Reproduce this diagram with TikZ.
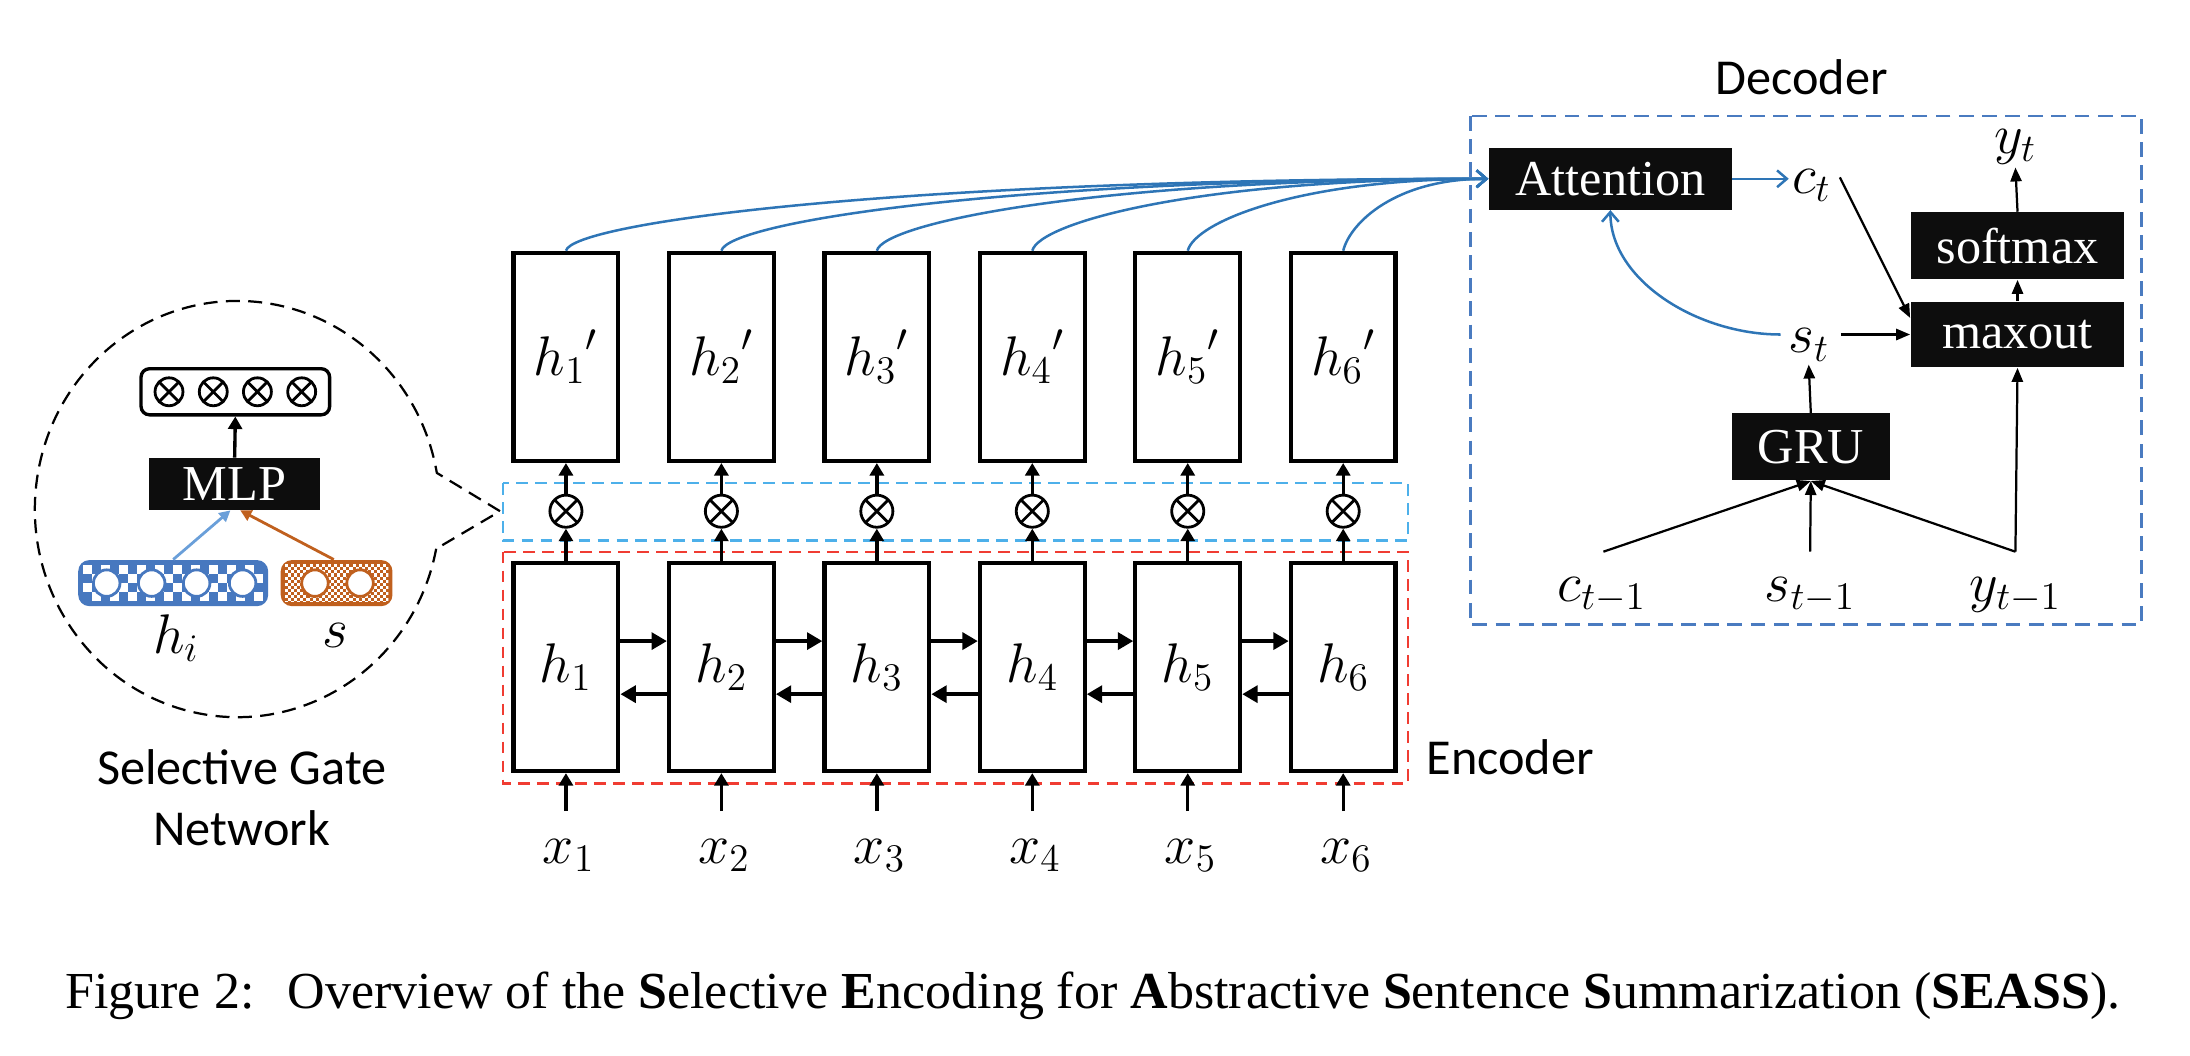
\RequirePackage{fix-cm}
\documentclass[tikz,border=0pt]{standalone}
\usepackage[no-math]{fontspec}
\setmainfont{Liberation Serif}
\newfontfamily\sansf{Carlito}
\usetikzlibrary{arrows.meta,calc}
\definecolor{encred}{HTML}{F03C32}
\definecolor{gateblue}{HTML}{4DB0EA}
\definecolor{decblue}{HTML}{4A7BC0}
\definecolor{curveblue}{HTML}{2E75B6}
\definecolor{vecblue}{HTML}{4778BF}
\definecolor{vecorange}{HTML}{C0601E}
\definecolor{arrblue}{HTML}{6A9FD9}
\definecolor{boxblack}{HTML}{0D0D0D}
\begin{document}
\begin{tikzpicture}[x=0.5pt,y=-0.5pt,
  font=\fontsize{18}{21}\selectfont, inner sep=1pt,
  sansfont/.style={font=\sansf\fontsize{18}{21}\selectfont},
  mathlab/.style={font=\fontsize{20}{24}\selectfont},
  hbox/.style={draw, line width=1.5pt, minimum width=37.5pt, minimum height=74.5pt, inner sep=0pt, mathlab},
  blk/.style={fill=boxblack, text=white, inner sep=0pt},
  otim/.style={circle, draw, line width=1pt, minimum size=11.5pt, inner sep=0pt,
    path picture={\draw[line width=1pt] (path picture bounding box.north west) -- (path picture bounding box.south east)
      (path picture bounding box.north east) -- (path picture bounding box.south west);}},
  varr/.style={line width=1.2pt, -{Triangle[length=4.5pt,width=5pt]}},
  harr/.style={line width=1.6pt, -{Triangle[length=5.5pt,width=6pt]}},
  darr/.style={line width=0.8pt, -{Triangle[length=5pt,width=4pt]}},
  barr/.style={curveblue, line width=0.9pt, -{Straight Barb[length=3.5pt,width=6pt]}},
  regionred/.style={encred, line width=0.85pt, dash pattern=on 4.2pt off 2.6pt},
  regionblue/.style={gateblue, line width=0.85pt, dash pattern=on 4.2pt off 2.6pt},
]
\useasboundingbox (0,0) rectangle (1568,756);

% ---------------- Encoder ----------------
\draw[regionblue] (360,346) rectangle (1008,387);
\draw[regionred] (360,395) rectangle (1008,561);
\foreach \i/\x in {1/405.2,2/516.5,3/627.8,4/739.1,5/850.4,6/961.7} {
  \node[hbox] (hp\i) at (\x,255.5) {${h_{\i}}'$};
  \node[hbox] (h\i) at (\x,477.5) {$h_{\i}$};
  \node[otim] (o\i) at (\x,366) {};
  \node[mathlab, anchor=base] (x\i) at (\x+2,618) {$x_{\i}$};
  \draw[varr] (h\i.north) -- (o\i.south);
  \draw[varr] (o\i.north) -- (hp\i.south);
  \draw[varr, shorten <=8.8pt] (x\i.north -| h\i.south) -- (h\i.south);
}
\foreach \i in {1,...,5} {
  \pgfmathtruncatemacro\j{\i+1}
  \draw[harr] ($(h\i.east)+(0,-18.5)$) -- ($(h\j.west)+(0,-18.5)$);
  \draw[harr] ($(h\j.west)+(0,19.5)$) -- ($(h\i.east)+(0,19.5)$);
}
\node[sansfont, anchor=west] (enc) at (1019,542) {Encoder};

% ---------------- Decoder ----------------
\draw[decblue, line width=1pt, dash pattern=on 5.3pt off 3pt] (1053,83) rectangle (1533,447);
\node[sansfont] (declab) at (1290,55) {Decoder};
\node[blk, minimum width=87pt, minimum height=22pt] (att) at (1153,128) {Attention};
\node[blk, minimum width=76.5pt, minimum height=24pt] (sm) at (1444.5,176) {softmax};
\node[blk, minimum width=76.5pt, minimum height=23.5pt] (mo) at (1444.5,239.5) {maxout};
\node[blk, minimum width=56.5pt, minimum height=24pt] (gru) at (1296.5,320) {GRU};
\node[mathlab] (ct) at (1297,133) {$c_t$};
\node[mathlab] (yt) at (1443,105) {$y_t$};
\node[mathlab] (st) at (1295,247) {$s_t$};
\node[mathlab] (ct1) at (1147,426) {$c_{t-1}$};
\node[mathlab] (st1) at (1296,426) {$s_{t-1}$};
\node[mathlab] (yt1) at (1443,426) {$y_{t-1}$};
\coordinate (ct1a) at (1148,395);
\coordinate (st1a) at (1296,395);
\coordinate (yt1a) at (1443,395);

\foreach \i in {1,...,6} {
  \draw[barr] (hp\i.north) .. controls +(5,-20) and ($(att.west)!0.64!(hp\i.north |- att.west)$) .. (att.west);
}
\draw[barr] (att.east) -- (att.east -| ct.west);
\draw[barr] ($(st.west |- mo.west)+(-3,0)$) .. controls +(-60,0) and +(0,50) .. (att.south);
\draw[darr] ($(ct.east)+(4,-6)$) -- ($(mo.north west)+(0,12)$);
\draw[darr] ($(st.east |- mo.west)+(6,0)$) -- (mo.west);
\draw[darr] (gru.north) -- (st.south);
\draw[darr] (mo.north) -- (sm.south);
\draw[darr] (sm.north) -- (yt.south);
\draw[darr] (ct1a) -- (gru.south);
\draw[darr] (st1a) -- (gru.south);
\draw[darr] (yt1a) -- (gru.south);
\draw[darr] (yt1a) -- (mo.south);

% ---------------- Selective gate network ----------------
\draw[line width=0.8pt, dash pattern=on 5pt off 3pt] (312.3,392.9)
  arc[start angle=11, end angle=350, x radius=145, y radius=149] -- (358,366) -- cycle;
\node[blk, minimum width=61pt, minimum height=18.5pt] (mlp) at (168,346.5) {MLP};
\node[draw, line width=1.2pt, rounded corners=3pt, minimum width=67.5pt, minimum height=16.5pt, inner sep=0pt] (gates) at (168.5,280.5) {};
\foreach \k/\x in {1/121,2/152.7,3/184.3,4/216}
  \node[otim, minimum size=10pt] (g\k) at (\x,280.5) {};
\draw[varr] (mlp.north) -- (gates.south);

\node[fill=vecblue, rounded corners=4pt, minimum width=68pt, minimum height=16.5pt, inner sep=0pt] (hivec) at (124,417.5) {};
\begin{scope}
  \clip (59.5,404.5) rectangle (188.5,430.5);
  \foreach \i in {0,...,19}{\foreach \j in {0,...,3}{
    \pgfmathtruncatemacro\m{mod(\i+\j,2)}
    \ifnum\m=0 \fill[white] (59.5+6.45*\i,404.5+6.5*\j) rectangle ++(6.45,6.5); \fi
  }}
\end{scope}
\foreach \x in {76.4,108.6,140.8,173.7}
  \draw[vecblue, line width=1pt, fill=white] (\x,417.5) circle[radius=9.5];

\node[fill=vecorange, rounded corners=4pt, minimum width=40pt, minimum height=16.5pt, inner sep=0pt] (svec) at (241,417.5) {};
\begin{scope}
  \clip (204,404) rectangle (278,431);
  \foreach \i in {0,...,33}{\foreach \j in {0,...,12}{
    \pgfmathtruncatemacro\m{mod(\i+\j,2)}
    \ifnum\m=0 \fill[white] (204+2.2*\i,404+2.2*\j) rectangle ++(2.2,2.2); \fi
  }}
\end{scope}
\foreach \x in {225.5,257.8}
  \draw[vecorange, line width=1pt, fill=white] (\x,417.5) circle[radius=9.5];

\draw[arrblue, line width=1pt, -{Triangle[length=4pt,width=4pt]}] (hivec.north) -- ($(mlp.south)+(-3,0)$);
\draw[vecorange, line width=1pt, -{Triangle[length=4pt,width=4pt]}] ($(svec.north)+(-2,0)$) -- ($(mlp.south)+(4,0)$);
\node[mathlab] (hil) at (126,457) {$h_i$};
\node[mathlab] (sl) at (240,455) {$s$};
\node[sansfont] (sgn1) at (173,549) {Selective Gate};
\node[sansfont] (sgn2) at (173,593) {Network};

% ---------------- Caption ----------------
\node[anchor=base, inner sep=0pt, font=\fontsize{18.6}{22}\selectfont] (cap) at (782.5,722)
  {Figure 2:\hspace{12pt}Overview of the \textbf{S}elective \textbf{E}ncoding for \textbf{A}bstractive \textbf{S}entence \textbf{S}ummarization (\textbf{SEASS}).};
\end{tikzpicture}
\end{document}
